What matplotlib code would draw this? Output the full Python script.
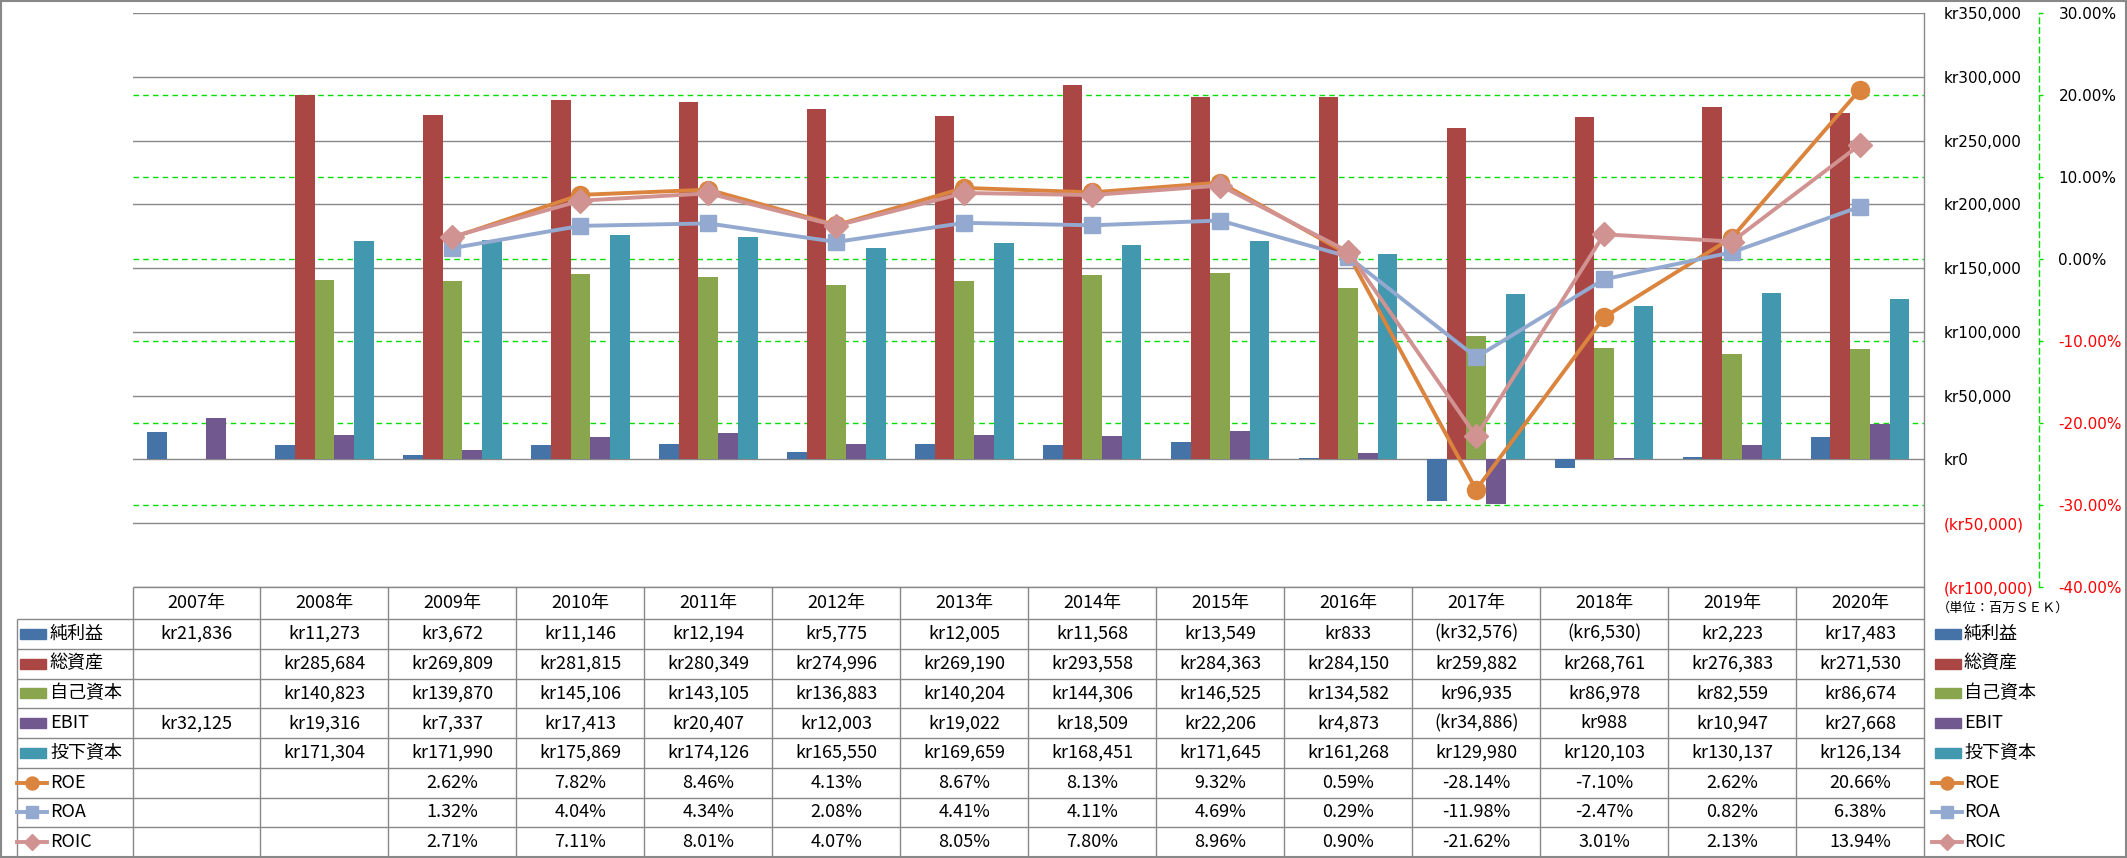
import numpy as np
import matplotlib
matplotlib.use("Agg")
import matplotlib.pyplot as plt
from matplotlib.patches import Rectangle
from matplotlib.lines import Line2D
from matplotlib.transforms import blended_transform_factory

plt.rcParams['font.family'] = ['DejaVu Sans', 'Noto Sans CJK JP']
CJK = ['Noto Sans CJK JP', 'DejaVu Sans']

# ---- data (百万SEK) ----
nan = np.nan
years = ['2007年', '2008年', '2009年', '2010年', '2011年', '2012年', '2013年',
         '2014年', '2015年', '2016年', '2017年', '2018年', '2019年', '2020年']
net_income = [21836, 11273, 3672, 11146, 12194, 5775, 12005, 11568, 13549, 833, -32576, -6530, 2223, 17483]
total_assets = [nan, 285684, 269809, 281815, 280349, 274996, 269190, 293558, 284363, 284150, 259882, 268761, 276383, 271530]
equity = [nan, 140823, 139870, 145106, 143105, 136883, 140204, 144306, 146525, 134582, 96935, 86978, 82559, 86674]
ebit = [32125, 19316, 7337, 17413, 20407, 12003, 19022, 18509, 22206, 4873, -34886, 988, 10947, 27668]
invested = [nan, 171304, 171990, 175869, 174126, 165550, 169659, 168451, 171645, 161268, 129980, 120103, 130137, 126134]
roe = [nan, nan, 2.62, 7.82, 8.46, 4.13, 8.67, 8.13, 9.32, 0.59, -28.14, -7.10, 2.62, 20.66]
roa = [nan, nan, 1.32, 4.04, 4.34, 2.08, 4.41, 4.11, 4.69, 0.29, -11.98, -2.47, 0.82, 6.38]
roic = [nan, nan, 2.71, 7.11, 8.01, 4.07, 8.05, 7.80, 8.96, 0.90, -21.62, 3.01, 2.13, 13.94]

bar_names = ['純利益', '総資産', '自己資本', 'EBIT', '投下資本']
bar_data = [net_income, total_assets, equity, ebit, invested]
bar_colors = ['#4572A7', '#AA4643', '#89A54E', '#71588F', '#4198AF']
line_names = ['ROE', 'ROA', 'ROIC']
line_data = [roe, roa, roic]
line_colors = ['#DB843D', '#93A9CF', '#D19392']
line_markers = ['o', 's', 'D']
line_ms = [13, 12, 12]

kr_ticks = np.arange(-100000, 350001, 50000)
pct_ticks = np.arange(-40, 31, 10)

GRAY = '#888888'
GREEN = '#00E000'
RED = '#FF0000'

W, H = 2127, 858
fig = plt.figure(figsize=(W / 100, H / 100), dpi=100)

PL, PR, PT, PB = 132.5, 1924, 13, 587
ax = fig.add_axes([PL / W, 1 - PB / H, (PR - PL) / W, (PB - PT) / H])
ax2 = ax.twinx()

x = np.arange(len(years))
bw = 0.154
for i, (vals, col) in enumerate(zip(bar_data, bar_colors)):
    v = np.array(vals, dtype=float)
    ok = np.isfinite(v)
    ax.bar(x[ok] + (i - 2) * bw, v[ok], width=bw, color=col, zorder=3)

ax.set_xlim(-0.5, len(years) - 0.5)
ax.set_ylim(kr_ticks[0], kr_ticks[-1])
ax2.set_ylim(pct_ticks[0], pct_ticks[-1])
ax.set_xticks([])

def kr_fmt(v):
    return f"kr{v:,.0f}" if v >= 0 else f"(kr{-v:,.0f})"

def pct_fmt(v):
    return f"{v:.2f}%"

# primary axis: labels on the right, no ticks
ax.yaxis.tick_right()
ax.set_yticks(kr_ticks, labels=[kr_fmt(t) for t in kr_ticks])
ax.tick_params(axis='y', length=0, pad=14, labelsize=11)
for lab, t in zip(ax.get_yticklabels(), kr_ticks):
    lab.set_color(RED if t < 0 else 'black')
for s in ['top', 'left', 'bottom']:
    ax.spines[s].set_visible(False)
ax.spines['right'].set_color(GRAY)
ax.spines['right'].set_linewidth(1.0)

# gridlines behind bars
for t in kr_ticks:
    ax.axhline(t, color=GRAY, lw=1.0, zorder=1)
tr = blended_transform_factory(ax.transAxes, ax2.transData)
for p in pct_ticks[1:-1]:
    ax.plot([0, 1], [p, p], transform=tr, color=GREEN, lw=1.0,
            dashes=(4, 3), zorder=1)

# secondary axis
for s in ['top', 'left', 'bottom']:
    ax2.spines[s].set_visible(False)
ax2.spines['right'].set_position(('outward', 115 * 0.72))
ax2.spines['right'].set_color(GREEN)
ax2.spines['right'].set_linestyle((0, (4, 3)))
ax2.spines['right'].set_linewidth(1.0)
ax2.set_yticks(pct_ticks, labels=[pct_fmt(t) for t in pct_ticks])
ax2.tick_params(axis='y', direction='out', length=3, width=1, color=GREEN,
                pad=11, labelsize=11)
for lab, t in zip(ax2.get_yticklabels(), pct_ticks):
    lab.set_color(RED if t < 0 else 'black')

for vals, col, mk, ms in zip(line_data, line_colors, line_markers, line_ms):
    ax2.plot(x, vals, color=col, lw=2.8, marker=mk, ms=ms, mec=col, mfc=col,
             zorder=4)

# ---- data table (pixel coordinates overlay) ----
tab = fig.add_axes([0, 0, 1, 1])
tab.set_xlim(0, W)
tab.set_ylim(H, 0)
tab.axis('off')
tab.patch.set_visible(False)

col_w = (PR - PL) / len(years)
head_top, head_bot = 587, 619
row_h = (857 - head_bot) / 8
lab_left = 17

def hline(y, x0, x1):
    tab.plot([x0, x1], [y, y], color=GRAY, lw=1.0, solid_capstyle='butt')

def vline(xv, y0, y1):
    tab.plot([xv, xv], [y0, y1], color=GRAY, lw=1.0, solid_capstyle='butt')

hline(head_top, PL, PR)
for r in range(9):
    hline(head_bot + r * row_h, lab_left, PR)
vline(lab_left, head_bot, head_bot + 8 * row_h)
for c in range(len(years) + 1):
    vline(PL + c * col_w, head_top, head_bot + 8 * row_h)

for c, yr in enumerate(years):
    tab.text(PL + (c + 0.5) * col_w, (head_top + head_bot) / 2, yr,
             ha='center', va='center', fontsize=13, family=CJK)

rows = [(n, d, 'kr') for n, d in zip(bar_names, bar_data)] + \
       [(n, d, 'pct') for n, d in zip(line_names, line_data)]
for r, (name, vals, kind) in enumerate(rows):
    yc = head_bot + (r + 0.5) * row_h
    for c, v in enumerate(vals):
        if not np.isfinite(v):
            continue
        s = kr_fmt(v) if kind == 'kr' else pct_fmt(v)
        tab.text(PL + (c + 0.5) * col_w, yc, s, ha='center', va='center',
                 fontsize=13, family=CJK)

def legend_key(x0, yc, r):
    if r < len(bar_names):
        tab.add_patch(Rectangle((x0 + 3, yc - 5), 26, 10, color=bar_colors[r]))
    else:
        k = r - len(bar_names)
        tab.plot([x0, x0 + 30], [yc, yc], color=line_colors[k], lw=2.8)
        tab.plot([x0 + 15], [yc], marker=line_markers[k], ms=line_ms[k] * 0.72,
                 color=line_colors[k])

for r, (name, vals, kind) in enumerate(rows):
    yc = head_bot + (r + 0.5) * row_h
    legend_key(lab_left, yc, r)
    tab.text(lab_left + 33, yc, name, ha='left', va='center', fontsize=13,
             family=CJK)
    legend_key(1932, yc, r)
    tab.text(1964, yc, name, ha='left', va='center', fontsize=13, family=CJK)

tab.text(1937, 608, '（単位：百万ＳＥＫ）', ha='left', va='center', fontsize=9.5,
         family=CJK)

tab.add_patch(Rectangle((1, 1), W - 2.5, H - 2.5, fill=False, edgecolor=GRAY,
                        lw=1.5))

fig.savefig('out.png', dpi=100)
